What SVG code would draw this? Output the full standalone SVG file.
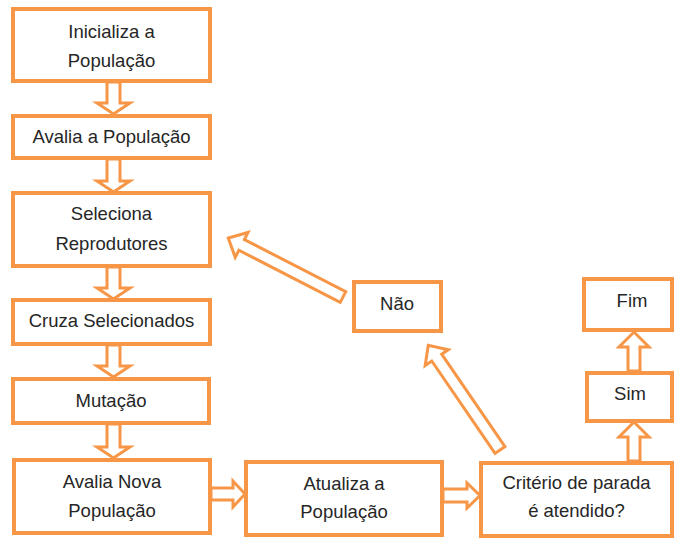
<svg xmlns="http://www.w3.org/2000/svg" width="674" height="538" viewBox="0 0 674 538">
<style>
.box{fill:#fff;stroke:#F79646;stroke-width:4}
.arr{fill:#fff;stroke:#F79646;stroke-width:3;stroke-linejoin:miter}
text{font-family:"Liberation Sans",Arial,sans-serif;font-size:18.5px;fill:#262626;text-anchor:middle}
</style>
<rect width="674" height="538" fill="#fff"/>
<g id="connectors">
<polygon class="arr" points="107,82 120,82 120,103 130,103 113.5,114 97,103 107,103"/>
<polygon class="arr" points="107,159 120,159 120,181 130,181 113.5,192 97,181 107,181"/>
<polygon class="arr" points="107,267 120,267 120,288 130,288 113.5,299 97,288 107,288"/>
<polygon class="arr" points="107,345 120,345 120,366 130,366 113.5,377 97,366 107,366"/>
<polygon class="arr" points="107,424 120,424 120,447 130,447 113.5,458 97,447 107,447"/>
<polygon class="arr" points="211,488 233,488 233,481 245,494 233,507 233,500 211,500"/>
<polygon class="arr" points="443,489 467,489 467,483 480,495.5 467,508 467,502 443,502"/>
<polygon class="arr" points="628,461 640,461 640,437 649,437 634,422 619,437 628,437"/>
<polygon class="arr" points="628,371 640,371 640,347 649,347 634,332 619,347 628,347"/>
<polygon class="arr" transform="translate(343,297) rotate(207.2)" points="0,-6 114,-6 114,-14 129,0 114,14 114,6 0,6"/>
<polygon class="arr" transform="translate(500,450) rotate(235.6)" points="0,-6 112,-6 112,-14 127,0 112,14 112,6 0,6"/>
</g>
<g id="n1"><rect class="box" x="13" y="9" width="197" height="72"/><text x="111.5" y="38">Inicializa a</text><text x="111.5" y="67">População</text></g>
<g id="n2"><rect class="box" x="13" y="116" width="197" height="42"/><text x="111.5" y="143">Avalia a População</text></g>
<g id="n3"><rect class="box" x="13" y="193" width="197" height="73"/><text x="111.5" y="220">Seleciona</text><text x="111.5" y="250">Reprodutores</text></g>
<g id="n4"><rect class="box" x="13" y="300" width="197" height="44"/><text x="111.5" y="327">Cruza Selecionados</text></g>
<g id="n5"><rect class="box" x="13" y="379" width="196" height="44"/><text x="111" y="407">Mutação</text></g>
<g id="n6"><rect class="box" x="14" y="460" width="196" height="73"/><text x="112" y="488">Avalia Nova</text><text x="112" y="517">População</text></g>
<g id="n7"><rect class="box" x="246" y="462" width="196" height="73"/><text x="344" y="490">Atualiza a</text><text x="344" y="518">População</text></g>
<g id="n8"><rect class="box" x="481" y="463" width="191" height="73"/><text x="576.5" y="489">Critério de parada</text><text x="576.5" y="517">é atendido?</text></g>
<g id="n9"><rect class="box" x="354" y="282" width="87" height="49"/><text x="397" y="310">Não</text></g>
<g id="n10"><rect class="box" x="587" y="373" width="85" height="48"/><text x="630" y="400">Sim</text></g>
<g id="n11"><rect class="box" x="584" y="279" width="88" height="51"/><text x="632" y="307">Fim</text></g>
</svg>
